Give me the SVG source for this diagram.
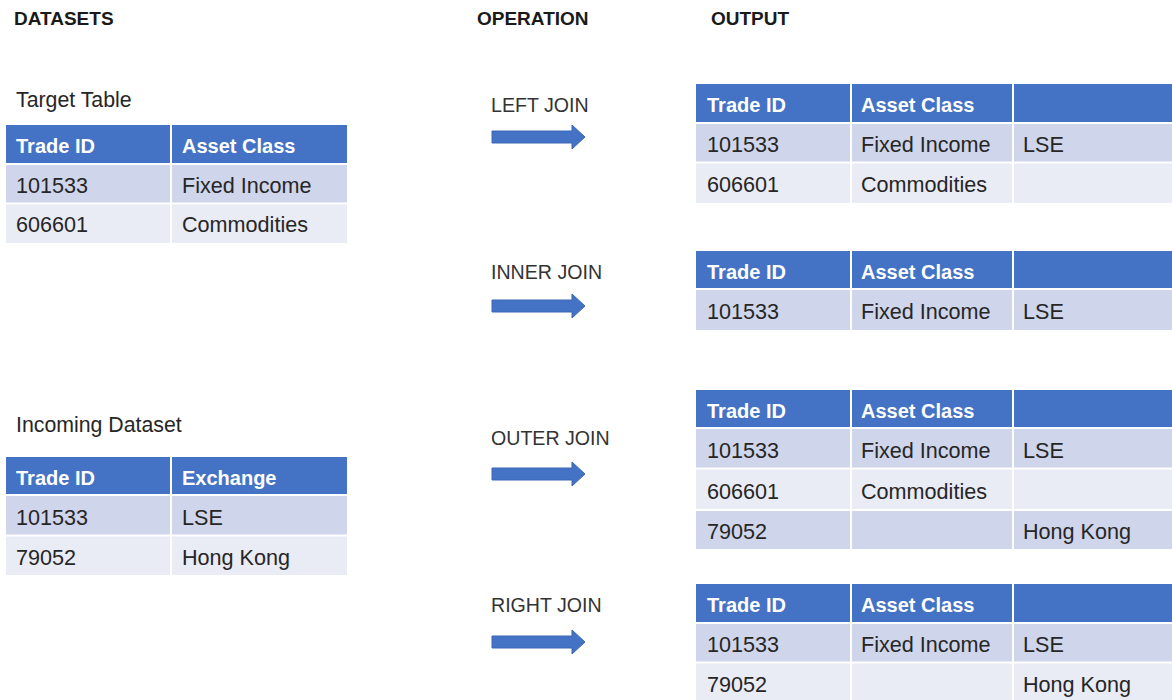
<svg xmlns="http://www.w3.org/2000/svg" width="1172" height="700" viewBox="0 0 1172 700">
<defs>
<style>
.title{font-family:"Liberation Sans",Arial,sans-serif;font-weight:bold;font-size:19px;fill:#1a1a1a}
.cap{font-family:"Liberation Sans",Arial,sans-serif;font-size:21.3px;fill:#262626}
.op{font-family:"Liberation Sans",Arial,sans-serif;font-size:19.6px;fill:#333333}
.hd{fill:#4472C4}
.r1{fill:#CFD5EA}
.r2{fill:#E9EBF5}
.ht{font-family:"Liberation Sans",Arial,sans-serif;font-weight:bold;font-size:20px;fill:#ffffff}
.ct{font-family:"Liberation Sans",Arial,sans-serif;font-size:21.6px;fill:#262626}
.sep{stroke:#ffffff;stroke-width:2}
.arrow{fill:#4472C4;stroke:#3A66B5;stroke-width:1}
</style>
<path id="arr" class="arrow" d="M0,-6 H80 V-12 L93,0 L80,12 V6 H0 Z"/>
</defs>
<rect width="1172" height="700" fill="#ffffff"/>

<g id="headings">
<text class="title" x="14" y="25">DATASETS</text>
<text class="title" x="477" y="25">OPERATION</text>
<text class="title" x="711" y="25">OUTPUT</text>
</g>

<g id="target-table">
<text class="cap" x="16" y="107">Target Table</text>
<rect class="hd" x="6" y="125" width="341" height="38"/>
<rect class="r1" x="6" y="163" width="341" height="40"/>
<rect class="r2" x="6" y="203" width="341" height="40"/>
<line class="sep" x1="6" y1="164" x2="347" y2="164"/>
<line class="sep" x1="6" y1="203.5" x2="347" y2="203.5"/>
<line class="sep" x1="171" y1="125" x2="171" y2="243"/>
<text class="ht" x="16" y="153">Trade ID</text>
<text class="ht" x="182" y="153">Asset Class</text>
<text class="ct" x="16" y="193">101533</text>
<text class="ct" x="182" y="193">Fixed Income</text>
<text class="ct" x="16" y="232">606601</text>
<text class="ct" x="182" y="232">Commodities</text>
</g>

<g id="incoming-dataset">
<text class="cap" x="16" y="432">Incoming Dataset</text>
<rect class="hd" x="6" y="457" width="341" height="37"/>
<rect class="r1" x="6" y="494" width="341" height="41"/>
<rect class="r2" x="6" y="535" width="341" height="40"/>
<line class="sep" x1="6" y1="495" x2="347" y2="495"/>
<line class="sep" x1="6" y1="535.5" x2="347" y2="535.5"/>
<line class="sep" x1="171" y1="457" x2="171" y2="575"/>
<text class="ht" x="16" y="485">Trade ID</text>
<text class="ht" x="182" y="485">Exchange</text>
<text class="ct" x="16" y="525">101533</text>
<text class="ct" x="182" y="525">LSE</text>
<text class="ct" x="16" y="565">79052</text>
<text class="ct" x="182" y="565">Hong Kong</text>
</g>

<g id="connectors">
<use href="#arr" x="492" y="137"/>
<use href="#arr" x="492" y="306"/>
<use href="#arr" x="492" y="474"/>
<use href="#arr" x="492" y="642"/>
</g>

<g id="op-left-join"><text class="op" x="491" y="112">LEFT JOIN</text></g>
<g id="op-inner-join"><text class="op" x="491" y="279">INNER JOIN</text></g>
<g id="op-outer-join"><text class="op" x="491" y="445">OUTER JOIN</text></g>
<g id="op-right-join"><text class="op" x="491" y="612">RIGHT JOIN</text></g>

<g id="out-left-join">
<rect class="hd" x="696" y="84" width="480" height="38"/>
<rect class="r1" x="696" y="122" width="480" height="40"/>
<rect class="r2" x="696" y="162" width="480" height="41"/>
<line class="sep" x1="696" y1="123" x2="1176" y2="123"/>
<line class="sep" x1="696" y1="162.5" x2="1176" y2="162.5"/>
<line class="sep" x1="851" y1="84" x2="851" y2="203"/>
<line class="sep" x1="1013" y1="84" x2="1013" y2="203"/>
<text class="ht" x="707" y="112">Trade ID</text>
<text class="ht" x="861" y="112">Asset Class</text>
<text class="ct" x="707" y="152">101533</text>
<text class="ct" x="861" y="152">Fixed Income</text>
<text class="ct" x="1023" y="152">LSE</text>
<text class="ct" x="707" y="192">606601</text>
<text class="ct" x="861" y="192">Commodities</text>
</g>

<g id="out-inner-join">
<rect class="hd" x="696" y="251" width="480" height="37"/>
<rect class="r1" x="696" y="288" width="480" height="42"/>
<line class="sep" x1="696" y1="289" x2="1176" y2="289"/>
<line class="sep" x1="851" y1="251" x2="851" y2="330"/>
<line class="sep" x1="1013" y1="251" x2="1013" y2="330"/>
<text class="ht" x="707" y="279">Trade ID</text>
<text class="ht" x="861" y="279">Asset Class</text>
<text class="ct" x="707" y="319">101533</text>
<text class="ct" x="861" y="319">Fixed Income</text>
<text class="ct" x="1023" y="319">LSE</text>
</g>

<g id="out-outer-join">
<rect class="hd" x="696" y="390" width="480" height="37"/>
<rect class="r1" x="696" y="427" width="480" height="41"/>
<rect class="r2" x="696" y="468" width="480" height="42"/>
<rect class="r1" x="696" y="510" width="480" height="39"/>
<line class="sep" x1="696" y1="428" x2="1176" y2="428"/>
<line class="sep" x1="696" y1="468.5" x2="1176" y2="468.5"/>
<line class="sep" x1="696" y1="510" x2="1176" y2="510"/>
<line class="sep" x1="851" y1="390" x2="851" y2="549"/>
<line class="sep" x1="1013" y1="390" x2="1013" y2="549"/>
<text class="ht" x="707" y="418">Trade ID</text>
<text class="ht" x="861" y="418">Asset Class</text>
<text class="ct" x="707" y="458">101533</text>
<text class="ct" x="861" y="458">Fixed Income</text>
<text class="ct" x="1023" y="458">LSE</text>
<text class="ct" x="707" y="499">606601</text>
<text class="ct" x="861" y="499">Commodities</text>
<text class="ct" x="707" y="539">79052</text>
<text class="ct" x="1023" y="539">Hong Kong</text>
</g>

<g id="out-right-join">
<rect class="hd" x="696" y="584" width="480" height="38"/>
<rect class="r1" x="696" y="622" width="480" height="40"/>
<rect class="r2" x="696" y="662" width="480" height="40"/>
<line class="sep" x1="696" y1="623" x2="1176" y2="623"/>
<line class="sep" x1="696" y1="662.5" x2="1176" y2="662.5"/>
<line class="sep" x1="851" y1="584" x2="851" y2="702"/>
<line class="sep" x1="1013" y1="584" x2="1013" y2="702"/>
<text class="ht" x="707" y="612">Trade ID</text>
<text class="ht" x="861" y="612">Asset Class</text>
<text class="ct" x="707" y="652">101533</text>
<text class="ct" x="861" y="652">Fixed Income</text>
<text class="ct" x="1023" y="652">LSE</text>
<text class="ct" x="707" y="692">79052</text>
<text class="ct" x="1023" y="692">Hong Kong</text>
</g>
</svg>
